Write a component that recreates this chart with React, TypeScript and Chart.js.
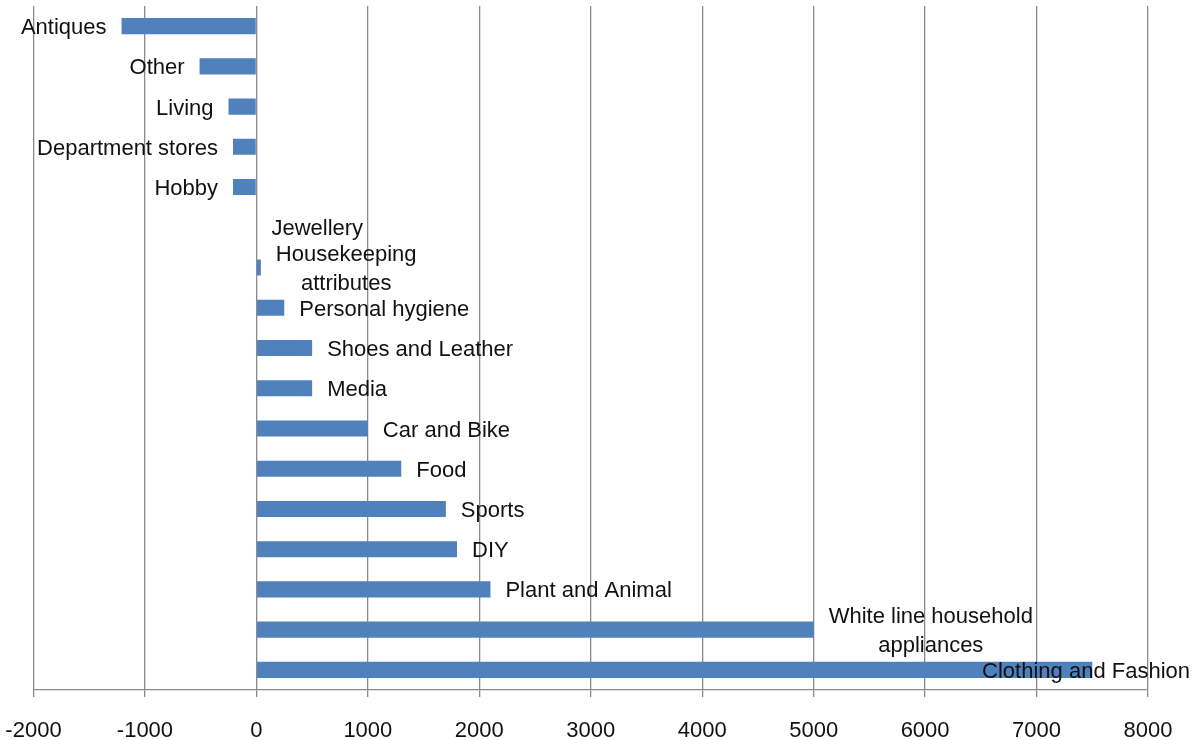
import React, { useEffect, useRef } from "react";
import { Chart, registerables } from "chart.js";

Chart.register(...registerables);

const categories: (string | string[])[] = [
  "Antiques",
  "Other",
  "Living",
  "Department stores",
  "Hobby",
  "Jewellery",
  ["Housekeeping", "attributes"],
  "Personal hygiene",
  "Shoes and Leather",
  "Media",
  "Car and Bike",
  "Food",
  "Sports",
  "DIY",
  "Plant and Animal",
  ["White line household", "appliances"],
  "Clothing and Fashion",
];

const values: number[] = [
  -1210, -510, -250, -210, -210, 0, 40, 250, 500, 500, 1000, 1300, 1700, 1800, 2100, 5000, 7500,
];

const xMin = -2000;
const xMax = 8000;
const xStep = 1000;

const FONT = "Liberation Sans, Arial, sans-serif";
const FONT_SIZE = 22;
const TEXT_COLOR = "#111111";
const GRID_COLOR = "#8a8a8a";
const BAR_COLOR = "#4F81BD";

const labelPlugin = {
  id: "barLabels",
  afterDatasetsDraw(chart: any) {
    const ctx = chart.ctx;
    const meta = chart.getDatasetMeta(0);
    const lineH = 29;
    const gap = 15;
    ctx.save();
    ctx.font = `${FONT_SIZE}px ${FONT}`;
    ctx.fillStyle = TEXT_COLOR;
    ctx.textBaseline = "middle";
    ctx.textAlign = "center";
    meta.data.forEach((bar: any, i: number) => {
      const raw = categories[i];
      const lines = Array.isArray(raw) ? raw : [raw];
      const w = Math.max(...lines.map((l) => ctx.measureText(l).width));
      const v = values[i];
      let left: number;
      if (v >= 0) {
        left = bar.x + gap;
        if (left + w > chart.width - 3) left = chart.width - 3 - w;
      } else {
        left = bar.x - gap - w;
      }
      const cx = left + w / 2;
      const y0 = bar.y + 2 - ((lines.length - 1) * lineH) / 2;
      lines.forEach((l, k) => ctx.fillText(l, cx, y0 + k * lineH));
    });
    ctx.restore();
  },
};

export default function App() {
  const ref = useRef<HTMLCanvasElement>(null);
  useEffect(() => {
    if (!ref.current) return;
    const chart = new Chart(ref.current, {
      type: "bar",
      data: {
        labels: categories.map((c) => (Array.isArray(c) ? c.join(" ") : c)),
        datasets: [
          {
            data: values,
            backgroundColor: BAR_COLOR,
            borderWidth: 0,
            barPercentage: 0.4,
            categoryPercentage: 1,
          },
        ],
      },
      options: {
        indexAxis: "y",
        animation: false,
        responsive: false,
        maintainAspectRatio: false,
        layout: { padding: { left: 33.5, right: 45, top: 6, bottom: 0 } },
        plugins: { legend: { display: false }, tooltip: { enabled: false } },
        scales: {
          y: { display: false },
          x: {
            min: xMin,
            max: xMax,
            afterFit: (scale: any) => {
              scale.height = 50;
              scale.paddingLeft = 0;
              scale.paddingRight = 0;
            },
            ticks: {
              stepSize: xStep,
              color: TEXT_COLOR,
              font: { family: FONT, size: FONT_SIZE, lineHeight: 1 },
              padding: 23,
              maxRotation: 0,
              autoSkip: false,
              callback: (v: any) => String(v),
            },
            grid: {
              color: GRID_COLOR,
              lineWidth: 1.3,
              drawTicks: true,
              tickLength: 7,
            },
            border: { display: true, color: GRID_COLOR, width: 1.3 },
          },
        },
      },
      plugins: [labelPlugin],
    });
    return () => chart.destroy();
  }, []);
  return (
    <div style={{ position: "fixed", left: 0, top: 0, width: 1193, height: 740, background: "#fff" }}>
      <canvas ref={ref} width={1193} height={740} style={{ width: 1193, height: 740 }} />
    </div>
  );
}
